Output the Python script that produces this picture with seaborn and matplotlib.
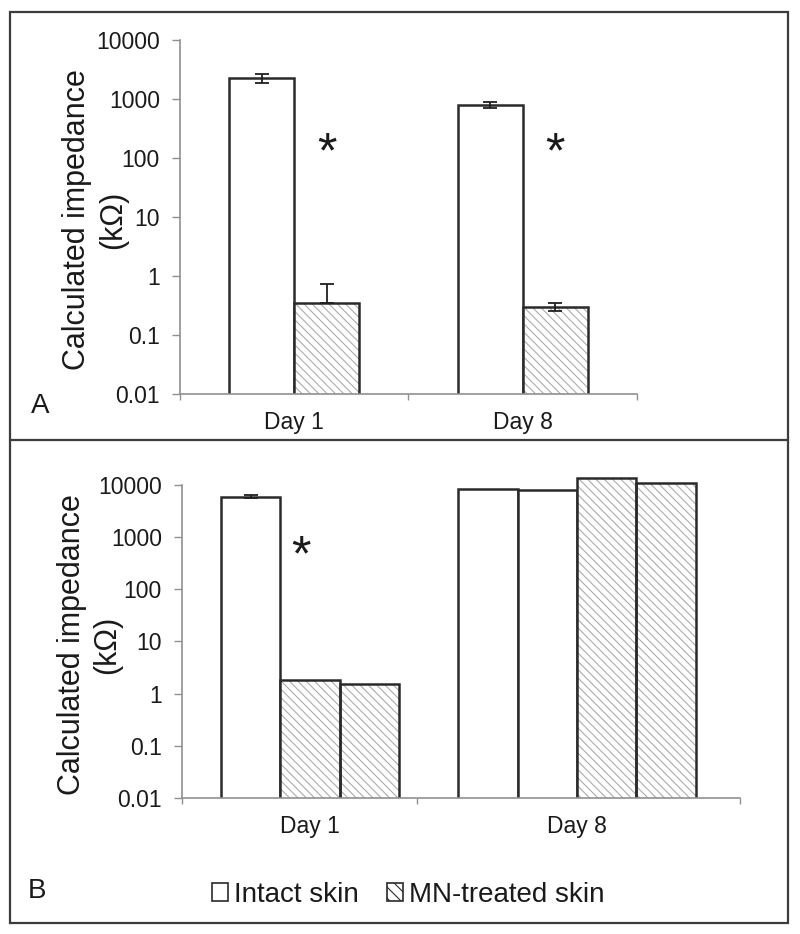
import numpy as np
import pandas as pd
import matplotlib
matplotlib.use("Agg")
import matplotlib.pyplot as plt
import seaborn as sns
from matplotlib.patches import Rectangle, Patch
from matplotlib.lines import Line2D
from matplotlib.ticker import NullLocator

# ---------------- data ----------------
groups = ["Intact skin", "MN-treated skin"]

top_days = ["Day 1", "Day 8"]
top_intact = [2300, 800]
top_intact_err = [400, 100]
top_mn = [0.35, 0.30]
top_mn_err = [0.37, 0.05]

bottom_days = ["Day 1", "Day 1", "Day 1", "Day 8", "Day 8", "Day 8", "Day 8"]
bottom_groups = ["Intact skin", "MN-treated skin", "MN-treated skin",
                 "Intact skin", "Intact skin", "MN-treated skin", "MN-treated skin"]
bottom_values = [6000, 1.8, 1.5, 8200, 8100, 13300, 10700]
bottom_err = [500, 0, 0, 0, 0, 0, 0]

ytick_vals = [0.01, 0.1, 1, 10, 100, 1000, 10000]
ytick_labels = ["0.01", "0.1", "1", "10", "100", "1000", "10000"]
star_top_y = 115
star_bottom_y = 400
ylabel_line1 = "Calculated impedance"
ylabel_line2 = "(k\u03a9)"

# ---------------- style ----------------
sns.set_theme(style="white")
plt.rcParams["font.family"] = ["Liberation Sans", "DejaVu Sans"]
plt.rcParams["hatch.linewidth"] = 0.8

EDGE = "#2a2a2a"
HATCH = "\\\\\\\\"
HATCH_COLOR = "#ababab"
SPINE = "#909090"
TXT = "#1a1a1a"
TICK_FS = 16.5

fig = plt.figure(figsize=(8.0, 9.34), dpi=100)

ax1 = fig.add_axes([0.225, 0.5782, 0.571, 0.3790])
ax2 = fig.add_axes([0.2275, 0.14561, 0.6975, 0.3466])


def hatch_bar(ax, bar):
    bar.set_hatch(HATCH)
    if hasattr(bar, "set_hatchcolor"):
        bar.set_hatchcolor(HATCH_COLOR)
    else:
        bar.set_edgecolor(HATCH_COLOR)
        bar.set_linewidth(0)
        ax.add_patch(Rectangle(bar.get_xy(), bar.get_width(), bar.get_height(),
                               fill=False, edgecolor=EDGE, linewidth=1.8,
                               zorder=bar.get_zorder() + 0.1))


def style_axes(ax, ymax):
    ax.set_yscale("log")
    ax.set_ylim(0.01, ymax)
    ax.set_yticks(ytick_vals)
    ax.set_yticklabels(ytick_labels)
    ax.yaxis.set_minor_locator(NullLocator())
    for s in ["top", "right"]:
        ax.spines[s].set_visible(False)
    for s in ["left", "bottom"]:
        ax.spines[s].set_color(SPINE)
        ax.spines[s].set_linewidth(1.2)
    ax.spines["left"].set_bounds(0.01, 10000)
    ax.tick_params(axis="y", which="major", direction="out", length=5.5, width=1,
                   color=SPINE, labelsize=TICK_FS, labelcolor=TXT, pad=9, left=True)
    ax.tick_params(axis="x", which="major", direction="out", length=4, width=1,
                   color=SPINE, bottom=True, labelbottom=False)
    ax.tick_params(axis="x", which="minor", length=0, labelsize=TICK_FS,
                   labelcolor=TXT, pad=12, bottom=True, labelbottom=True)
    ax.set_xlabel("")
    ax.set_ylabel("")
    ax.grid(False)


# ---------------- top panel ----------------
df_top = pd.DataFrame({
    "day": top_days * 2,
    "group": [groups[0]] * len(top_days) + [groups[1]] * len(top_days),
    "value": top_intact + top_mn,
    "err": top_intact_err + top_mn_err,
})
sns.barplot(data=df_top, x="day", y="value", hue="group", order=top_days,
            hue_order=groups, palette=["white", "white"], width=0.57,
            edgecolor=EDGE, linewidth=1.8, errorbar=None, legend=False,
            saturation=1, ax=ax1)
style_axes(ax1, 10000)
ax1.set_xlim(-0.5, len(top_days) - 0.5)

bar_conts = list(ax1.containers)
for k, cont in enumerate(bar_conts):
    g = groups[k]
    for bar in cont:
        cx = bar.get_x() + bar.get_width() / 2
        day = top_days[int(round(cx))]
        row = df_top[(df_top.day == day) & (df_top.group == g)].iloc[0]
        v, e = row.value, row.err
        lo = e if e < v else 0
        ax1.errorbar([cx], [v], yerr=[[lo], [e]], fmt="none", ecolor="#202020",
                     elinewidth=1.3, capsize=5, capthick=1.3, zorder=5)
        if g == groups[1]:
            hatch_bar(ax1, bar)
            ax1.text(cx, star_top_y, "*", ha="center", va="center",
                     fontsize=36, color=TXT)

ax1.set_xticks(np.arange(len(top_days) + 1) - 0.5)
ax1.set_xticks(np.arange(len(top_days)), minor=True)
ax1.set_xticklabels(top_days, minor=True)

# ---------------- bottom panel ----------------
slots = [f"{d} #{i}" for i, d in enumerate(bottom_days)]
df_bot = pd.DataFrame({"slot": slots, "day": bottom_days, "group": bottom_groups,
                       "value": bottom_values, "err": bottom_err})
day_levels = list(dict.fromkeys(bottom_days))
order = []
for j, d in enumerate(day_levels):
    if j > 0:
        order.append(f"gap{j}")
    order += [s for s, dd in zip(slots, bottom_days) if dd == d]

sns.barplot(data=df_bot, x="slot", y="value", order=order, color="white",
            width=1.0, edgecolor=EDGE, linewidth=1.8, errorbar=None,
            saturation=1, ax=ax2)
style_axes(ax2, 16000)
x_left = -1.16
x_right = len(order) - 0.5 + 0.75
ax2.set_xlim(x_left, x_right)

star_done = False
bar_conts2 = list(ax2.containers)
for cont in bar_conts2:
    for bar in cont:
        cx = bar.get_x() + bar.get_width() / 2
        slot = order[int(round(cx))]
        row = df_bot[df_bot.slot == slot].iloc[0]
        if row.err > 0:
            ax2.errorbar([cx], [row.value], yerr=[[row.err], [row.err]], fmt="none",
                         ecolor="#202020", elinewidth=1.3, capsize=5, capthick=1.3,
                         zorder=5)
        if row.group == groups[1]:
            hatch_bar(ax2, bar)
            if row.day == day_levels[0] and not star_done:
                ax2.text(cx - 0.15, star_bottom_y, "*", ha="center", va="center",
                         fontsize=36, color=TXT)
                star_done = True

centers = []
bounds = [x_left]
for j, d in enumerate(day_levels):
    pos = [order.index(s) for s, dd in zip(slots, bottom_days) if dd == d]
    centers.append(np.mean(pos))
    if j < len(day_levels) - 1:
        bounds.append(order.index(f"gap{j + 1}") - 0.2)
bounds.append(x_right)
ax2.set_xticks(bounds)
ax2.set_xticks(centers, minor=True)
ax2.set_xticklabels(day_levels, minor=True)

# ---------------- labels, legend, frames ----------------
for (x1, x2, yc) in [(77, 113, 220), (72, 107, 645)]:
    fig.text(x1 / 800, 1 - yc / 934, ylabel_line1, rotation=90, ha="center",
             va="center", fontsize=22, color=TXT)
    fig.text(x2 / 800, 1 - yc / 934, ylabel_line2, rotation=90, ha="center",
             va="center", fontsize=22, color=TXT)
fig.text(40 / 800, 1 - 406 / 934, "A", ha="center", va="center", fontsize=20, color=TXT)
fig.text(37 / 800, 1 - 891 / 934, "B", ha="center", va="center", fontsize=20, color=TXT)

h_intact = Patch(facecolor="white", edgecolor=EDGE, linewidth=1.2)
h_mn = Patch(facecolor="white", edgecolor=EDGE, linewidth=1.2, hatch="\\\\\\")
if hasattr(h_mn, "set_hatchcolor"):
    h_mn.set_hatchcolor(HATCH_COLOR)
fig.legend([h_intact, h_mn], groups, loc="center", bbox_to_anchor=(0.51, 0.042),
           ncol=2, frameon=False, fontsize=20, handlelength=0.6, handleheight=0.65,
           handletextpad=0.2, columnspacing=1.0, labelcolor=TXT)

FR = "#3c3c3c"
fig.add_artist(Rectangle((10 / 800, 11 / 934), 778 / 800, 911 / 934,
                         transform=fig.transFigure, fill=False, edgecolor=FR,
                         linewidth=1.6))
fig.add_artist(Line2D([10 / 800, 788 / 800], [1 - 440 / 934, 1 - 440 / 934],
                      transform=fig.transFigure, color=FR, linewidth=1.6))

fig.savefig("out.png", dpi=100, facecolor="white")
